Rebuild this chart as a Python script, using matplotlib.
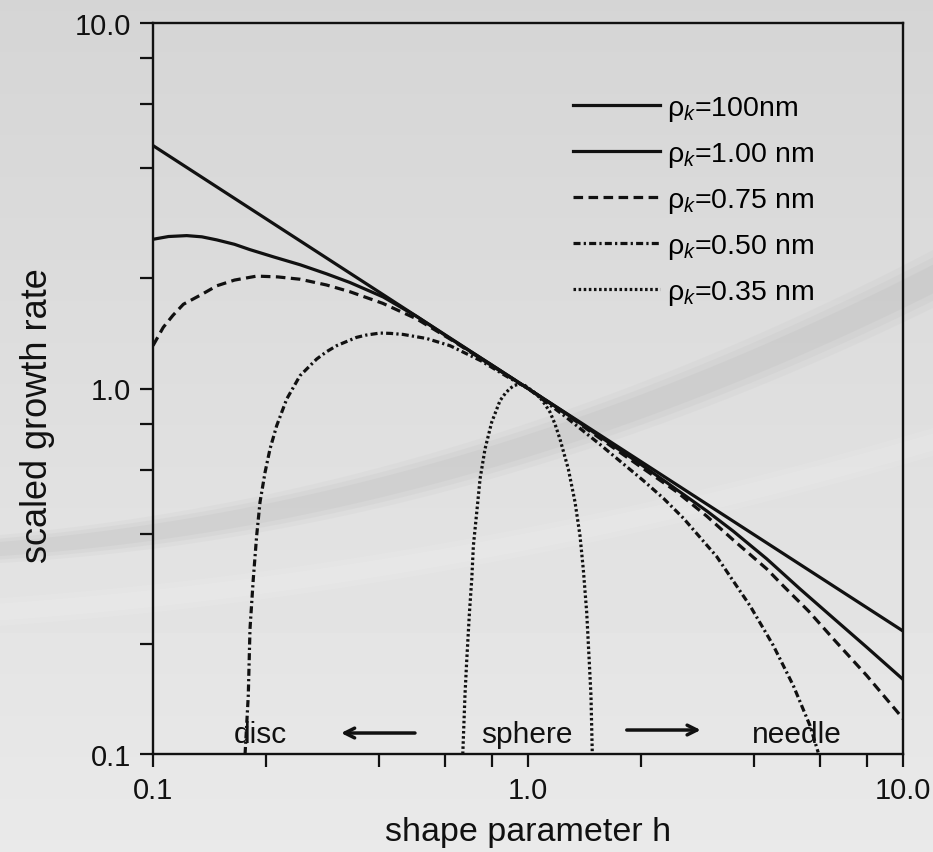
import numpy as np
import matplotlib.pyplot as plt
from matplotlib.ticker import LogLocator, NullFormatter

plt.rcParams['font.family'] = ['Liberation Sans', 'DejaVu Sans']
plt.rcParams['mathtext.fontset'] = 'custom'
plt.rcParams['mathtext.rm'] = 'Liberation Sans'
plt.rcParams['mathtext.it'] = 'Liberation Sans:italic'

# curves (shape parameter h, scaled growth rate)
h_100nm = [0.1, 1.0, 10.0]
g_100nm = [4.62, 1.0, 0.217]

h_1p00 = [0.1, 0.11, 0.123, 0.135, 0.148, 0.165, 0.181, 0.21, 0.247, 0.29, 0.335, 0.411,
          0.505, 0.62, 0.8, 1.0, 1.25, 1.5, 2.0, 2.344, 3.0, 3.527, 4.33, 5.31, 6.5, 8.0, 10.0]
g_1p00 = [2.56, 2.605, 2.62, 2.60, 2.55, 2.48, 2.40, 2.29, 2.18, 2.06, 1.95, 1.78,
          1.574, 1.37, 1.16, 1.0, 0.86, 0.758, 0.62, 0.553, 0.462, 0.407, 0.342, 0.283,
          0.236, 0.196, 0.160]

h_0p75 = [0.1, 0.1065, 0.113, 0.1205, 0.135, 0.148, 0.165, 0.189, 0.215, 0.247, 0.29,
          0.335, 0.41, 0.505, 0.62, 0.8, 1.0, 1.25, 1.5, 2.0, 2.49, 3.0, 3.527, 4.33,
          4.8, 5.6, 6.52, 8.0, 10.0]
g_0p75 = [1.31, 1.47, 1.585, 1.70, 1.81, 1.91, 1.98, 2.03, 2.02, 1.99, 1.92,
          1.84, 1.71, 1.55, 1.365, 1.155, 1.0, 0.858, 0.75, 0.61, 0.522, 0.447, 0.385,
          0.321, 0.288, 0.246, 0.2065, 0.164, 0.125]

h_0p50 = [0.176, 0.1795, 0.1814, 0.1851, 0.189, 0.1929, 0.199, 0.2051, 0.2137, 0.2273,
          0.2466, 0.2732, 0.29, 0.309, 0.349, 0.37, 0.403, 0.43, 0.464, 0.537, 0.619,
          0.75, 0.87, 1.0, 1.25, 1.556, 2.03, 2.3, 2.595, 3.185, 3.908, 4.33, 4.51, 5.10,
          5.65, 5.94]
g_0p50 = [0.1, 0.1444, 0.2198, 0.3012, 0.3958, 0.4884, 0.590, 0.683, 0.791, 0.936,
          1.084, 1.204, 1.26, 1.31, 1.38, 1.40, 1.418, 1.415, 1.406, 1.37, 1.31,
          1.19, 1.085, 1.0, 0.842, 0.703, 0.56, 0.50, 0.442, 0.347, 0.2545, 0.2128, 0.198,
          0.1538, 0.1195, 0.101]

h_0p35 = [0.670, 0.679, 0.686, 0.698, 0.708, 0.715, 0.730, 0.745, 0.768, 0.800, 0.842,
          0.87, 0.895, 0.92, 0.95, 0.98, 1.0, 1.04, 1.076, 1.11, 1.145, 1.18, 1.217,
          1.281, 1.335, 1.376, 1.404, 1.434, 1.457, 1.472, 1.484]
g_0p35 = [0.1, 0.1444, 0.178, 0.244, 0.301, 0.371, 0.4585, 0.566, 0.683, 0.808, 0.926,
          0.97, 1.0, 1.02, 1.028, 1.02, 1.005, 0.975, 0.945, 0.905, 0.861, 0.80, 0.727,
          0.602, 0.4884, 0.3958, 0.3208, 0.244, 0.178, 0.1444, 0.1]

series_labels = ['100nm', '1.00 nm', '0.75 nm', '0.50 nm', '0.35 nm']
tick_values = [0.1, 1.0, 10.0]
tick_labels = ['0.1', '1.0', '10.0']
region_labels = ['disc', 'sphere', 'needle']

fig = plt.figure(figsize=(9.33, 8.53), dpi=100)

# grey gradient background with a faint swoosh
bg = fig.add_axes([0, 0, 1, 1], zorder=-1)
grad = np.linspace(0.835, 0.915, 256)[:, None]
bg.imshow(grad, extent=[0, 933, 853, 0], aspect='auto', cmap='gray',
          vmin=0, vmax=1, interpolation='bicubic')
xs = np.linspace(0, 933, 200)
dark_c = 550 - 0.0738 * xs - 2.31e-4 * xs ** 2
half = 14 + 0.016 * xs
for k, a in zip([1.0, 0.75, 0.5], [0.08, 0.10, 0.12]):
    bg.fill_between(xs, dark_c - half * k, dark_c + half * k, color='#a8a8a8', alpha=a, lw=0)
light_c = 613 - 0.0706 * xs - 1.196e-4 * xs ** 2
for k, a in zip([1.0, 0.6], [0.08, 0.10]):
    bg.fill_between(xs, light_c - 14 * k, light_c + 14 * k, color='white', alpha=a, lw=0)
bg.set_xlim(0, 933)
bg.set_ylim(853, 0)
bg.axis('off')

ax = fig.add_axes([153 / 933, 1 - 755 / 853, 750 / 933, 731 / 853])
ax.set_facecolor('none')

lw = 2.3
col = '#111111'
ax.plot(h_100nm, g_100nm, color=col, lw=lw, ls='-', label='ρ$_k$=' + series_labels[0])
ax.plot(h_1p00, g_1p00, color=col, lw=lw, ls='-', label='ρ$_k$=' + series_labels[1])
ax.plot(h_0p75, g_0p75, color=col, lw=lw, ls=(0, (3.0, 1.7)), label='ρ$_k$=' + series_labels[2])
ax.plot(h_0p50, g_0p50, color=col, lw=lw, ls=(0, (2.2, 1.0, 0.7, 1.0)), label='ρ$_k$=' + series_labels[3])
ax.plot(h_0p35, g_0p35, color=col, lw=lw, ls=(0, (0.8, 0.8)), label='ρ$_k$=' + series_labels[4])

ax.set_xscale('log')
ax.set_yscale('log')
ax.set_xlim(0.1, 10)
ax.set_ylim(0.1, 10)
ax.set_xticks(tick_values, labels=tick_labels)
ax.set_yticks(tick_values, labels=tick_labels)
for axis in (ax.xaxis, ax.yaxis):
    axis.set_minor_locator(LogLocator(base=10, subs=[2, 4, 6, 8]))
    axis.set_minor_formatter(NullFormatter())
ax.tick_params(which='both', direction='out', length=9.5, width=1.6, color=col,
               labelsize=21, pad=6, labelcolor=col)
for sp in ax.spines.values():
    sp.set_linewidth(1.7)
    sp.set_color(col)

ax.set_xlabel('shape parameter h', fontsize=24.5, color=col, labelpad=9)
ax.set_ylabel('scaled growth rate', fontsize=26, color=col)
ax.yaxis.set_label_coords(-0.131, 0.464)

ax.legend(loc='upper left', bbox_to_anchor=(0.545, 0.919), frameon=False, fontsize=20.5,
          handlelength=3.05, handletextpad=0.25, labelspacing=0.6, borderaxespad=0)

# region labels and arrows
ax.text(0.143, 0.016, region_labels[0], transform=ax.transAxes, fontsize=21.5,
        ha='center', va='baseline', color=col)
ax.text(0.499, 0.016, region_labels[1], transform=ax.transAxes, fontsize=21.5,
        ha='center', va='baseline', color=col)
ax.text(0.858, 0.016, region_labels[2], transform=ax.transAxes, fontsize=21.5,
        ha='center', va='baseline', color=col)
arrow = dict(arrowstyle='->, head_length=0.7, head_width=0.35', lw=2.5, color=col)
ax.annotate('', xy=(0.247, 0.0287), xytext=(0.353, 0.0287), xycoords='axes fraction',
            arrowprops=arrow)
ax.annotate('', xy=(0.734, 0.0328), xytext=(0.628, 0.0328), xycoords='axes fraction',
            arrowprops=arrow)

fig.savefig('out.png', dpi=100)
